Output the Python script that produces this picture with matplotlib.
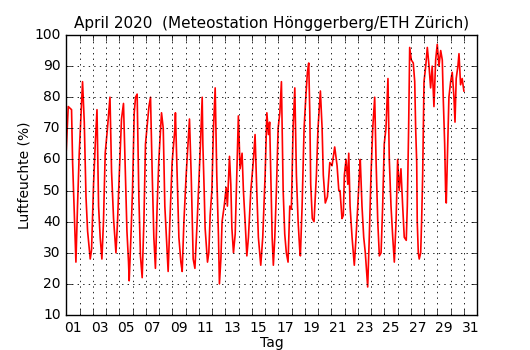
import numpy as np
import matplotlib
matplotlib.use('Agg')
import matplotlib.pyplot as plt

# time in days since 1 April 00:00, relative humidity in %
tage = [0.00, 0.15, 0.40, 0.48, 0.60, 0.73, 0.85, 0.98, 1.23, 1.36, 1.49, 1.61, 1.81, 1.91,
        2.06, 2.19, 2.32, 2.44, 2.56, 2.69, 2.81, 2.94, 3.11, 3.30, 3.42, 3.57, 3.75, 3.87,
        4.00, 4.17, 4.32, 4.45, 4.58, 4.70, 4.75, 4.88, 5.00, 5.13, 5.23, 5.35, 5.48, 5.60,
        5.73, 5.86, 5.98, 6.24, 6.36, 6.49, 6.61, 6.73, 6.86, 6.99, 7.19, 7.32, 7.44, 7.59,
        7.69, 7.82, 7.99, 8.20, 8.24, 8.37, 8.50, 8.65, 8.75, 8.88, 9.05, 9.30, 9.43, 9.58,
        9.71, 9.88, 10.13, 10.26, 10.31, 10.41, 10.48, 10.56, 10.66, 10.76, 10.86, 10.99,
        11.11, 11.24, 11.36, 11.49, 11.56, 11.67, 11.76, 11.92, 12.07, 12.16, 12.32, 12.42,
        12.50, 12.62, 12.75, 12.87, 12.99, 13.12, 13.27, 13.37, 13.50, 13.63, 13.75, 13.93,
        14.13, 14.25, 14.38, 14.50, 14.68, 14.83, 15.01, 15.14, 15.26, 15.35, 15.44, 15.54,
        15.63, 15.74, 15.86, 15.99, 16.12, 16.24, 16.37, 16.49, 16.61, 16.74, 16.87, 16.99,
        17.12, 17.25, 17.37, 17.50, 17.62, 17.67, 17.80, 17.95, 18.08, 18.20, 18.30, 18.38,
        18.45, 18.57, 18.70, 18.88, 19.00, 19.18, 19.31, 19.40, 19.55, 19.71, 19.89, 20.06,
        20.26, 20.44, 20.57, 20.66, 20.81, 20.91, 20.99, 21.12, 21.25, 21.32, 21.42, 21.57,
        21.74, 21.87, 22.00, 22.12, 22.19, 22.32, 22.45, 22.57, 22.75, 22.87, 23.00, 23.13,
        23.28, 23.38, 23.51, 23.63, 23.76, 23.88, 24.00, 24.13, 24.28, 24.38, 24.51, 24.64,
        24.76, 24.89, 25.01, 25.13, 25.26, 25.39, 25.51, 25.66, 25.74, 25.84, 25.92, 26.04,
        26.19, 26.30, 26.37, 26.45, 26.49, 26.57, 26.64, 26.75, 26.82, 26.90, 27.00, 27.13,
        27.25, 27.38, 27.50, 27.62, 27.75, 27.88, 28.00, 28.13, 28.26, 28.38, 28.45, 28.56,
        28.63, 28.68, 28.76, 28.88, 29.01, 29.13, 29.26, 29.34, 29.43, 29.56, 29.64, 29.76,
        29.88, 30.01]
feuchte = [63, 77, 76, 59, 44, 27, 45, 62, 85, 72, 48, 37, 28, 31,
           52, 65, 76, 45, 35, 28, 40, 62, 70, 80, 56, 41, 30, 40,
           55, 73, 78, 58, 37, 27, 21, 35, 50, 75, 80, 81, 48, 29,
           22, 40, 65, 77, 80, 55, 35, 25, 45, 60, 75, 70, 45, 32,
           24, 40, 59, 70, 75, 55, 35, 27, 24, 40, 55, 73, 55, 28,
           25, 40, 65, 80, 65, 50, 38, 33, 27, 30, 42, 50,
           70, 83, 55, 35, 20, 28, 40, 45, 51, 45, 61, 52,
           38, 30, 36, 55, 74, 57, 62, 50, 40, 29, 35, 50,
           60, 68, 50, 35, 26, 35, 55, 75, 68, 72, 55, 35,
           26, 35, 50, 70, 75, 85, 50, 36, 30, 27, 45, 44,
           70, 83, 55, 40, 31, 29, 45, 70, 80, 88, 91, 75,
           52, 41, 40, 55, 70, 82, 70, 55, 46, 48, 59, 58,
           64, 58, 50, 50, 41, 42, 55, 60, 52, 62, 45, 35,
           26, 35, 45, 55, 60, 45, 35, 30, 19, 35, 55, 70,
           80, 60, 40, 29, 30, 45, 65, 70, 86, 60, 45, 35,
           27, 40, 60, 50, 57, 45, 35, 34, 45, 70, 96, 92,
           91, 85, 70, 59, 40, 30, 28, 30, 40, 55, 85, 90,
           96, 90, 83, 90, 77, 92, 97, 90, 95, 92, 80, 65,
           50, 46, 60, 80, 85, 88, 80, 72, 86, 90, 94, 84,
           86, 82]

tag_labels = ['%02d' % d for d in range(1, 32, 2)]

plt.style.use('classic')
fig = plt.figure(figsize=(5.3, 3.5), dpi=100)
ax = fig.add_axes([0.125, 0.1, 0.775, 0.8])
ax.plot(tage, feuchte, color='red', linewidth=1.2)

ax.set_xlim(0, 31)
ax.set_ylim(10, 100)
ax.set_xticks(np.arange(0, 32))
ax.set_xticklabels([])
ax.set_xticks(np.arange(0.5, 31, 2), minor=True)
ax.set_xticklabels(tag_labels, minor=True, fontsize=10)
ax.tick_params(axis='x', which='minor', length=0)
ax.set_yticks(np.arange(10, 101, 10))
ax.tick_params(axis='y', labelsize=10)
ax.grid(True, which='major', color='black', linestyle=':', linewidth=0.6)

ax.set_title('April 2020  (Meteostation Hönggerberg/ETH Zürich)', fontsize=11)
ax.set_xlabel('Tag', fontsize=10, labelpad=1)
ax.set_ylabel('Luftfeuchte (%)', fontsize=10, labelpad=2)

fig.savefig('out.png', dpi=100, facecolor='white')
